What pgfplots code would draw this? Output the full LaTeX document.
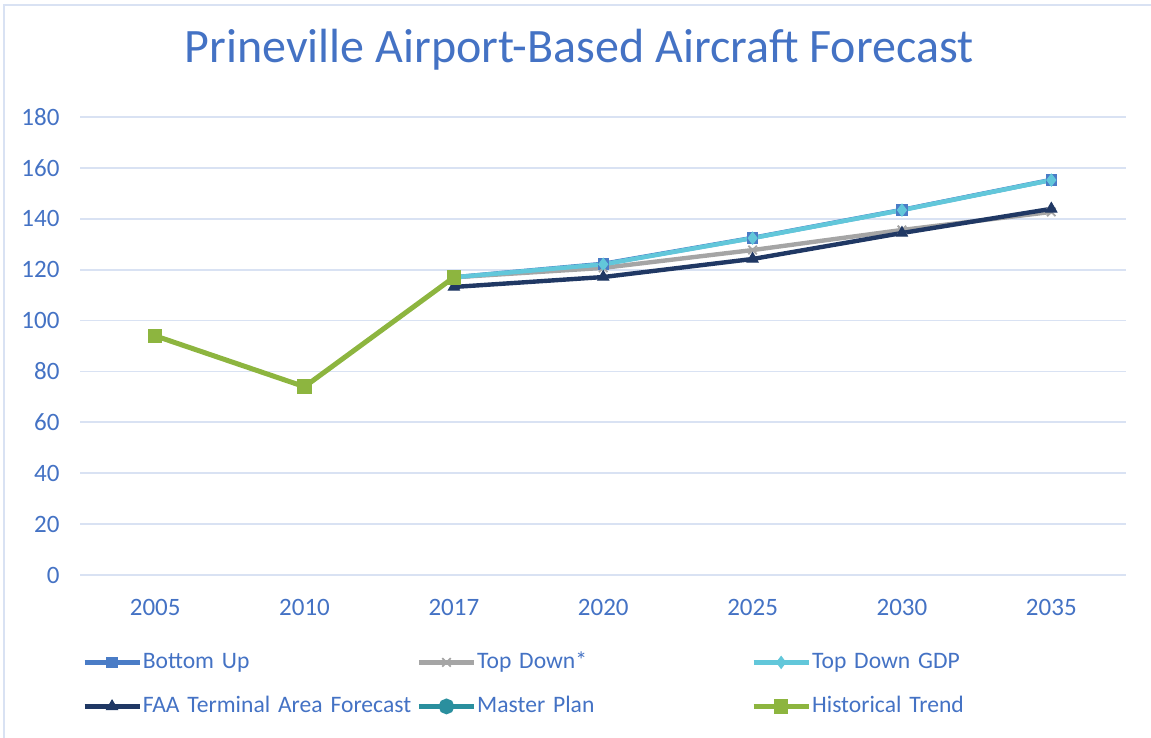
\documentclass[border=0pt]{standalone}
\usepackage{pgfplots}
\pgfplotsset{compat=1.18}
\usepackage{fontspec}
\setmainfont{Carlito}
\definecolor{txt}{HTML}{4472C4}
\definecolor{grd}{HTML}{D9E2F3}
\definecolor{cBU}{HTML}{4A7CC6}
\definecolor{cTD}{HTML}{A5A5A5}
\definecolor{cGDP}{HTML}{62C7DA}
\definecolor{cFAA}{HTML}{203864}
\definecolor{cMP}{HTML}{2A8F9E}
\definecolor{cHT}{HTML}{8DB53F}
\begin{document}
\begin{tikzpicture}
\path[use as bounding box] (0pt,0pt) rectangle (575.5pt,369pt);
\draw[grd, line width=0.75pt] (2pt,0pt) -- (2pt,366.5pt) -- (575.5pt,366.5pt);
\node[anchor=base, text=txt, font=\fontsize{24}{28}\selectfont, inner sep=0pt] at (289.5pt,337.5pt) {Prineville Airport-Based Aircraft Forecast};
\begin{axis}[
  at={(40.25pt,81.5pt)}, anchor=south west,
  scale only axis, width=522.75pt, height=229pt,
  xmin=-0.5, xmax=6.5, ymin=0, ymax=180,
  xtick={0,1,2,3,4,5,6},
  xticklabels={2005,2010,2017,2020,2025,2030,2035},
  ytick={0,20,...,180},
  axis line style={draw=none},
  axis x line*=bottom,
  ymajorgrids, grid style={grd, line width=0.9pt},
  major tick style={draw=none},
  tick label style={text=txt, font=\fontsize{12.5}{14}\selectfont},
  /pgf/number format/assume math mode=true,
  yticklabel style={anchor=east, xshift=-7pt},
  xticklabel style={yshift=-8.5pt},
  clip=false,
  legend columns=3,
  legend cell align=left,
  legend style={at={(0.0014,-0.166)}, anchor=north west, draw=none, fill=none, inner sep=0pt,
     font=\fontsize{11.8}{14}\selectfont, text=txt,
     row sep=11pt,
     nodes={inner xsep=0.5pt, inner ysep=0pt, text height=8.5pt, text depth=2.5pt},
     /tikz/every even column/.append style={text width=136.5pt, align=left}},
  legend image code/.code={\draw[mark repeat=2,mark phase=2,#1] plot coordinates {(0pt,0pt) (13.75pt,0pt) (27.5pt,0pt)};},
]
\addplot[cBU, line width=2.2pt, mark=square*, mark size=2.6pt, mark options={fill=cBU, draw=cBU, line width=0.5pt}]
  coordinates {(2,117) (3,122.3) (4,132.5) (5,143.5) (6,155.3)};
\addlegendentry{Bottom Up}
\addplot[cTD, line width=2.2pt, mark=x, mark size=3pt, mark options={line width=0.9pt}]
  coordinates {(2,117) (3,120.7) (4,127.7) (5,135.6) (6,142.7)};
\addlegendentry{Top Down*}
\addplot[cGDP, line width=2.2pt, mark=diamond*, mark size=3pt, mark options={fill=cGDP, draw=cGDP, line width=0.5pt}]
  coordinates {(2,117) (3,122.1) (4,132.4) (5,143.4) (6,155.2)};
\addlegendentry{Top Down GDP}
\addplot[cFAA, line width=2.2pt, mark=triangle*, mark size=3.2pt, mark options={fill=cFAA, draw=cFAA, line width=0.5pt}]
  coordinates {(2,113.2) (3,117.1) (4,124.2) (5,134.4) (6,143.9)};
\addlegendentry{FAA Terminal Area Forecast}
\addlegendimage{cMP, line width=2.2pt, mark=*, mark size=2.8pt, mark options={fill=cMP, draw=cMP}}
\addlegendentry{Master Plan}
\addplot[cHT, line width=2.5pt, mark=square*, mark size=3.4pt, mark options={fill=cHT, draw=cHT, line width=0.5pt}]
  coordinates {(0,94) (1,74) (2,117)};
\addlegendentry{Historical Trend}
\end{axis}
\end{tikzpicture}
\end{document}
